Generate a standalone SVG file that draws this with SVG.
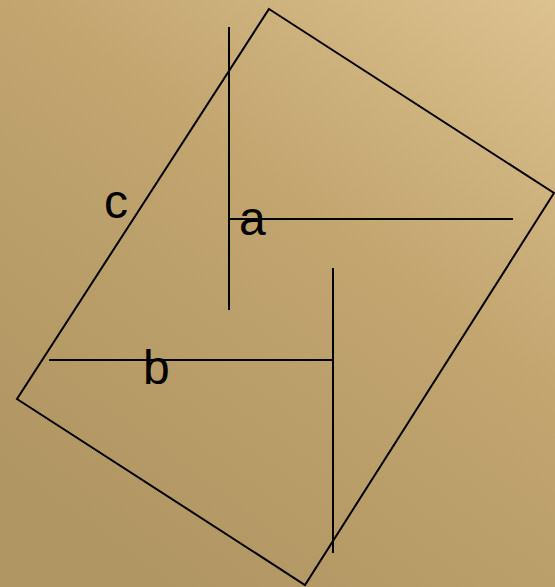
<svg xmlns="http://www.w3.org/2000/svg" width="555" height="587" viewBox="0 0 555 587">
<defs>
<linearGradient id="bg" x1="1" y1="0" x2="0.3" y2="1">
<stop offset="0" stop-color="#dcc28f"/>
<stop offset="0.45" stop-color="#c2a56f"/>
<stop offset="1" stop-color="#b09663"/>
</linearGradient>
<style>
.ln{stroke:#000;stroke-width:2;fill:none}
.lb{font-family:"Liberation Sans",Arial,sans-serif;font-size:48px;fill:#000}
</style>
</defs>
<rect x="0" y="0" width="555" height="587" fill="url(#bg)"/>
<g id="square">
<polygon class="ln" points="269,9 554,193 305,585 17,399"/>
</g>
<g id="connectors">
<line class="ln" x1="229" y1="27" x2="229" y2="310"/>
<line class="ln" x1="229" y1="219" x2="513" y2="219"/>
<line class="ln" x1="333" y1="268" x2="333" y2="553"/>
<line class="ln" x1="49" y1="360" x2="333" y2="360"/>
</g>
<g id="label-c"><text class="lb" x="104" y="218">c</text></g>
<g id="label-a"><text class="lb" x="239" y="235">a</text></g>
<g id="label-b"><text class="lb" x="143" y="384">b</text></g>
</svg>
